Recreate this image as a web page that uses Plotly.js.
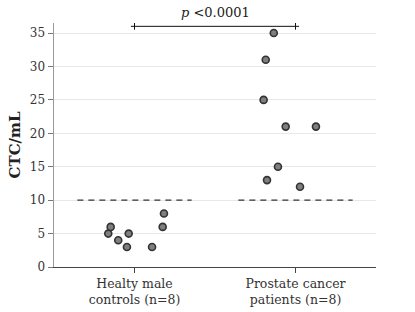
<!DOCTYPE html>
<html>
<head>
<meta charset="utf-8">
<script src="https://cdn.plot.ly/plotly-3.0.1.min.js"></script>
<style>html,body{margin:0;padding:0;background:#fff;}#chart{width:415px;height:312px;}</style>
</head>
<body>
<div id="chart"></div>
<script>
const categories = ["Healty male<br>controls (n=8)", "Prostate cancer<br>patients (n=8)"];
const healthyValues = [5, 6, 4, 3, 5, 3, 6, 8];
const healthyJitter = [-0.163, -0.148, -0.101, -0.047, -0.036, 0.109, 0.175, 0.183];
const cancerValues = [35, 31, 25, 21, 21, 15, 13, 12];
const cancerJitter = [-0.135, -0.185, -0.198, -0.061, 0.127, -0.109, -0.177, 0.028];
const threshold = 10;
const thresholdHalfWidth = 0.355;
const bracketY = 36;
const bracketTick = 0.5;
const bracketOverhang = 0.022;
const pText = "<i>p</i> &lt;0.0001";
const yTicks = [0, 5, 10, 15, 20, 25, 30, 35];

const font = "DejaVu Serif, Liberation Serif, serif";
const markerStyle = {size: 7, color: "#7f7f7f", line: {color: "#333", width: 1.6}};

const traces = [];
[[healthyValues, healthyJitter, 0], [cancerValues, cancerJitter, 1]].forEach(([vals, jit, c]) => {
  traces.push({
    type: "scatter", mode: "lines",
    x: [c - thresholdHalfWidth, c + thresholdHalfWidth], y: [threshold, threshold],
    line: {color: "#333", width: 1.2, dash: "6px,5px"}, hoverinfo: "skip"
  });
  traces.push({
    type: "scatter", mode: "markers",
    x: jit.map(j => c + j), y: vals, marker: markerStyle
  });
});
// significance bracket between the two groups
traces.push({
  type: "scatter", mode: "lines",
  x: [0 - bracketOverhang, 1 + bracketOverhang, null, 0, 0, null, 1, 1],
  y: [bracketY, bracketY, null, bracketY - bracketTick, bracketY + bracketTick, null, bracketY - bracketTick, bracketY + bracketTick],
  line: {color: "#111", width: 1},
  cliponaxis: false, connectgaps: false
});

const layout = {
  width: 415, height: 312,
  margin: {l: 54, r: 39, t: 23, b: 45},
  showlegend: false,
  paper_bgcolor: "#fff", plot_bgcolor: "#fff",
  font: {family: font, color: "#333", size: 12},
  xaxis: {
    range: [-0.5, 1.5], tickvals: [0, 1], ticktext: categories,
    showgrid: false, zeroline: false,
    showline: true, linecolor: "#444", linewidth: 1,
    ticks: "outside", ticklen: 5, tickcolor: "#444",
    tickfont: {family: font, size: 12.5, color: "#333"}
  },
  yaxis: {
    range: [0, 36.5], tickvals: yTicks,
    showgrid: true, gridcolor: "#e8e8e8", gridwidth: 1, zeroline: false,
    showline: true, linecolor: "#999", linewidth: 1.5,
    ticks: "outside", ticklen: 5, tickcolor: "#777",
    tickfont: {family: font, size: 12, color: "#333"},
    title: {text: "<b>CTC/mL</b>", font: {family: font, size: 15, color: "#222"}, standoff: 5}
  },
  annotations: [{
    x: 0.5, y: bracketY, xref: "x", yref: "y",
    text: pText, showarrow: false, yanchor: "bottom", yshift: 4,
    font: {family: font, size: 13, color: "#222"}
  }]
};

Plotly.newPlot("chart", traces, layout, {displayModeBar: false, staticPlot: true});
</script>
</body>
</html>
